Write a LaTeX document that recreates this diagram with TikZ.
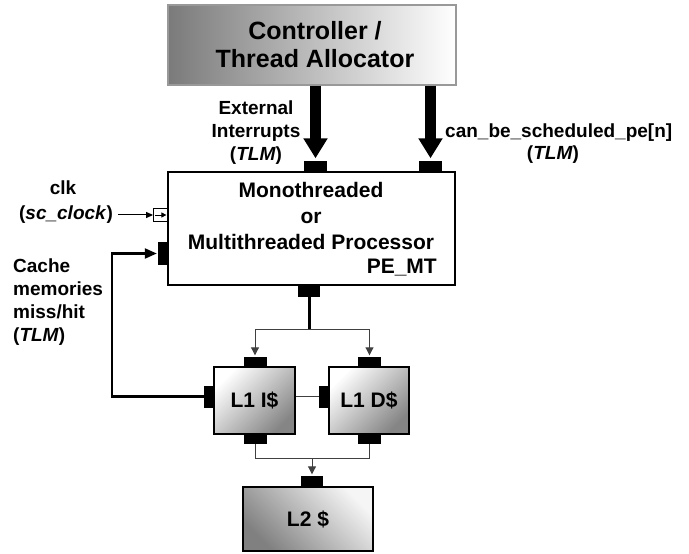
\documentclass[tikz,border=0pt]{standalone}
\usepackage{fontspec}
\setmainfont{Liberation Sans}
\usetikzlibrary{arrows.meta,calc}
\begin{document}
\begin{tikzpicture}[x={(1bp,0)},y={(0,-1bp)},
  lbl/.style={font=\bfseries\fontsize{19bp}{23bp}\selectfont,inner sep=0pt},
  port/.style={fill=black,draw=none,inner sep=0pt,minimum width=#1},
  hport/.style={port=23bp,minimum height=10bp},
  vport/.style={port=10bp,minimum height=22bp},
  box/.style={draw=black,line width=2bp,inner sep=0pt},
  cachebox/.style={box,shading=axis,top color=black!48,bottom color=white,shading angle=-135,
      minimum height=67bp,font=\bfseries\fontsize{21bp}{24bp}\selectfont},
  thinline/.style={draw=black!75,line width=1bp},
  thinarrow/.style={thinline,-{Triangle[length=8bp,width=8bp]},shorten >=1.5bp},
  bigarrow/.style={line width=10.5bp,-{Triangle[length=20bp,width=23bp]},shorten >=2.5bp},
  bus/.style={line width=3bp}]
\useasboundingbox (0,0) rectangle (689,554);

% controller
\node[draw=black!40,line width=1.5bp,left color=black!52,right color=white,
      minimum width=288bp,minimum height=80bp,inner sep=0pt] (ctrl) at (312,45) {};
\node[font=\bfseries\fontsize{25bp}{28bp}\selectfont,align=center,inner sep=0pt] (ctrltxt) at (315,45) {Controller /\\Thread Allocator};

% processor
\node[box,fill=white,minimum width=287bp,minimum height=113bp] (proc) at (311.5,228.5) {};
\node[font=\bfseries\fontsize{21bp}{26bp}\selectfont,align=center,inner sep=0pt] (proctxt) at (311,216) {Monothreaded\\or\\Multithreaded Processor};
\node[font=\bfseries\fontsize{21bp}{26bp}\selectfont,inner sep=0pt,anchor=east] (pemt) at (437,268) {PE\_MT};

% processor ports
\node[hport] (pt1) at (315.5,166) {};
\node[hport] (pt2) at (430.5,166) {};
\node[port=22bp,minimum height=11bp] (pb) at (309,291) {};
\node[vport] (pc) at (163,253.5) {};
\node[draw=black,fill=white,line width=0.8bp,inner sep=0pt,minimum width=14bp,minimum height=13bp] (pclk) at (160.5,215) {};
\draw[line width=0.8bp,-{Triangle[length=5bp,width=5bp]}] ($(pclk.west)+(2,0)$) -- ($(pclk.east)+(-1.5,0)$);

% thick arrows
\draw[bigarrow] (ctrl.south -| pt1) -- (pt1.north);
\draw[bigarrow] (ctrl.south -| pt2) -- (pt2.north);

% L1 caches
\node[cachebox,minimum width=81bp] (l1i) at (254.5,400.5) {L1 I\$};
\node[cachebox,minimum width=80bp] (l1d) at (369,400.5) {L1 D\$};
\node[hport] (l1it) at (255,362) {};
\node[hport] (l1dt) at (369.5,362) {};
\node[hport] (l1ib) at (255,439) {};
\node[hport] (l1db) at (369.5,439) {};
\node[vport] (l1il) at (209,396.5) {};
\node[vport] (l1dl) at (324,396.5) {};

% L2
\node[draw=black,line width=1.5bp,inner sep=0pt,shading=axis,top color=black!50,bottom color=white!96!black,shading angle=135,
      minimum width=130bp,minimum height=64bp,font=\bfseries\fontsize{21bp}{24bp}\selectfont] (l2) at (308,519) {L2 \$};
\node[port=22bp,minimum height=11bp] (l2t) at (312,481.5) {};

% connections
\coordinate (split) at (309,329);
\draw[bus] (pb.south) -- (split);
\draw[thinarrow] (split) -| (l1it.north);
\draw[thinarrow] (split) -| (l1dt.north);
\draw[thinline] (l1dl.west) -- (l1dl.west -| l1i.east);
\coordinate (join) at (312,458);
\draw[thinline] (l1ib.south) |- (join);
\draw[thinline] (l1db.south) |- (join);
\draw[thinarrow] (join) -- (l2t.north);

\coordinate (fb) at (112,320);
\draw[line width=2.2bp,-{Triangle[length=12bp,width=10bp]},shorten >=1bp] (l1il.west) -| (fb) |- (pc.west);

\coordinate (clksrc) at (118,215);
\draw[line width=1bp,-{Triangle[length=7bp,width=6bp]}] (clksrc) -- (pclk.west);

% labels
\node[lbl,align=center] (ext) at (256,133) {External\\Interrupts\\(\textit{TLM})};
\node[lbl,anchor=west] (cbs) at (445,133) {can\_be\_scheduled\_pe[n]};
\node[lbl] (cbstlm) at (553,155) {(\textit{TLM})};
\node[lbl] (clk) at (63,188) {clk};
\node[lbl] (sclk) at (66,215) {(\textit{sc\_clock})};
\node[lbl,align=left,anchor=west] (cache) at (13,302) {Cache\\memories\\miss/hit\\(\textit{TLM})};
\end{tikzpicture}
\end{document}
